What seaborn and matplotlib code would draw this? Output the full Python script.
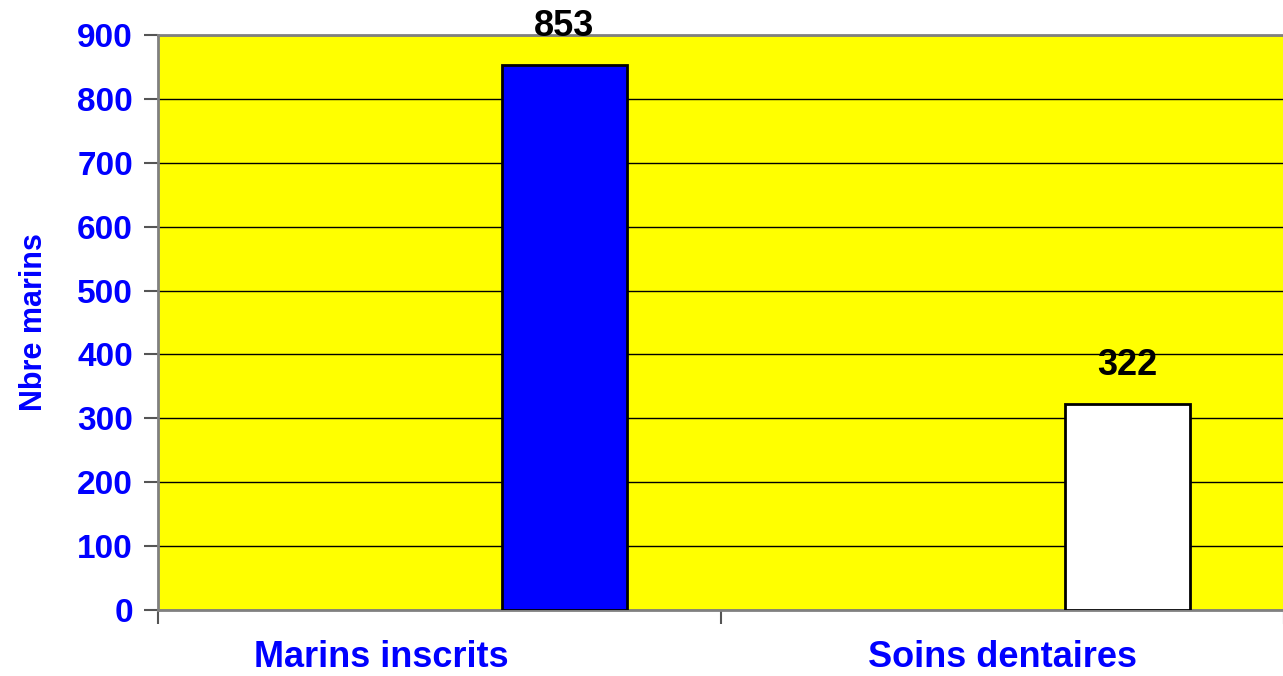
import seaborn as sns
import matplotlib.pyplot as plt
import pandas as pd
import numpy as np

categories = ["Marins inscrits", "Soins dentaires"]
values = [853, 322]
bar_colors = ["#0000ff", "#ffffff"]
y_ticks = [0, 100, 200, 300, 400, 500, 600, 700, 800, 900]
# Excel clustered layout: two empty series before the real one
series = ["s1", "s2", "s3"]

rows = []
for cat, val in zip(categories, values):
    rows.append({"categorie": cat, "serie": "s1", "nombre": np.nan})
    rows.append({"categorie": cat, "serie": "s2", "nombre": np.nan})
    rows.append({"categorie": cat, "serie": "s3", "nombre": val})
df = pd.DataFrame(rows)

sns.set_theme(style="white")
plt.rcParams["font.family"] = ["Liberation Sans", "DejaVu Sans"]

fig = plt.figure(figsize=(12.83, 6.76), dpi=100)
ax = fig.add_axes([158 / 1283, 66 / 676, 1126 / 1283, 575 / 676])
ax.set_facecolor("#ffff00")

sns.barplot(data=df, x="categorie", y="nombre", hue="serie", hue_order=series,
            palette=["#0000ff"] * 3, saturation=1, width=0.666, dodge=True,
            edgecolor="black", linewidth=2, legend=False, ax=ax, zorder=3)

bars = [p for p in ax.patches if np.isfinite(p.get_height()) and p.get_height() > 0]
bars.sort(key=lambda p: p.get_x())
for p, c in zip(bars, bar_colors):
    p.set_facecolor(c)

ax.set_xlim(-0.5, 1.5)
ax.set_ylim(0, 900)
ax.set_yticks(y_ticks)
ax.yaxis.grid(True, color="black", linewidth=1)
ax.set_axisbelow(True)

for spine in ["left", "bottom", "top"]:
    ax.spines[spine].set_color("#808080")
    ax.spines[spine].set_linewidth(2)
ax.spines["right"].set_visible(False)

ax.tick_params(axis="y", which="major", direction="out", length=10, width=1.5,
               color="#555555", labelsize=24, labelcolor="#0000ff", pad=8, left=True)
for lab in ax.get_yticklabels():
    lab.set_fontweight("bold")

ax.set_xticks([-0.5, 0.5, 1.5], minor=True)
ax.tick_params(axis="x", which="minor", direction="out", length=10, width=1.5,
               color="#555555", bottom=True)
ax.set_xticks(range(len(categories)))
ax.set_xticklabels([])
ax.tick_params(axis="x", which="major", length=0)

# category labels (the first one sits left of its slot in the original)
label_shift = [-58, 0]
for i, cat in enumerate(categories):
    ax.annotate(cat, (i, 0), xycoords=("data", "axes fraction"),
                xytext=(label_shift[i] * 0.72, -34), textcoords="offset points",
                ha="center", va="center", fontsize=26, fontweight="bold",
                color="#0000ff", annotation_clip=False)

ax.set_xlabel("")
ax.set_ylabel("Nbre marins", fontsize=22, fontweight="bold", color="#0000ff", labelpad=20)

for p, v in zip(bars, values):
    ax.annotate(str(v), (p.get_x() + p.get_width() / 2, v), xytext=(0, 28),
                textcoords="offset points", ha="center", va="center",
                fontsize=26, fontweight="bold", color="black", annotation_clip=False)

fig.savefig("out.png", dpi=100)
